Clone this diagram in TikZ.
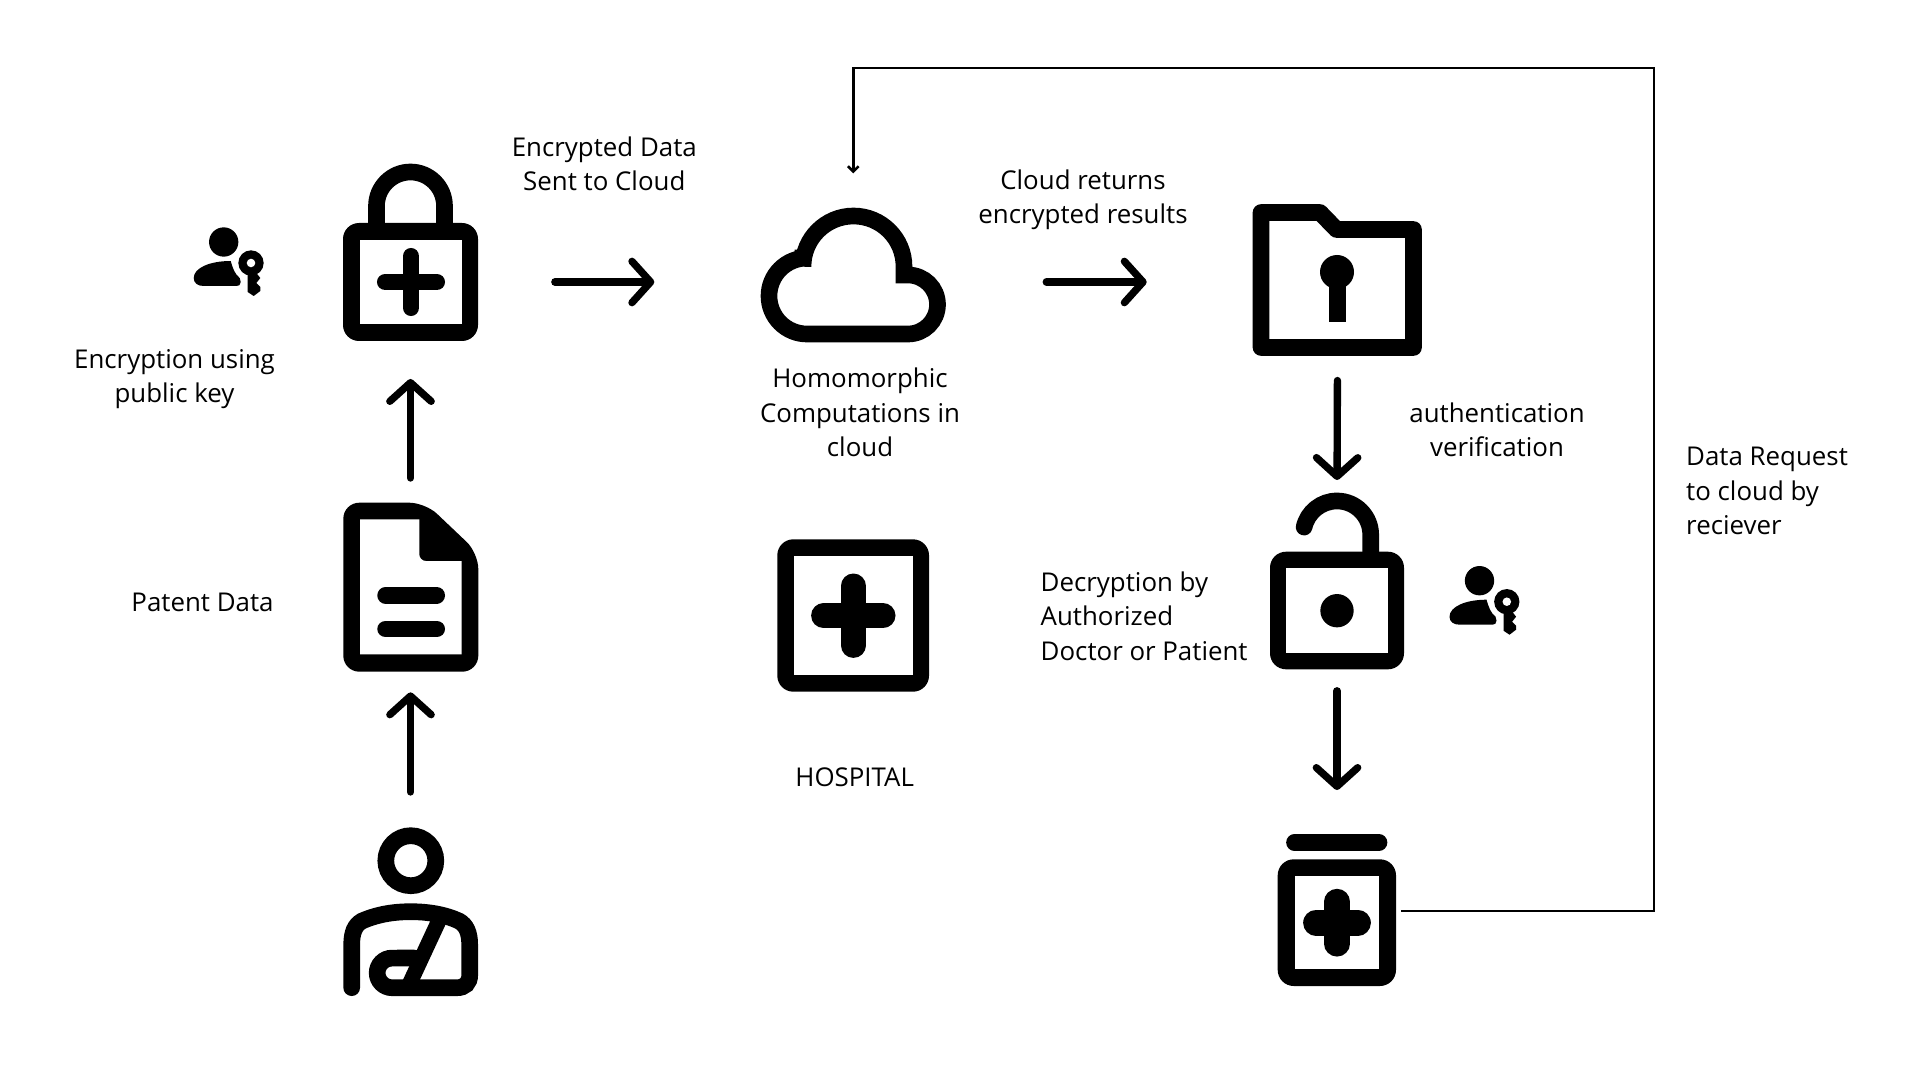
\documentclass[tikz,border=0pt]{standalone}
\usepackage{fontspec}
\setmainfont{Open Sans}
\usetikzlibrary{arrows.meta}
\tikzset{
  iconbox/.style={inner sep=0pt, outer sep=0pt},
  iconline/.style={line width=12.5pt, line cap=round},
  iconbody/.style={fill=black, rounded corners=12pt},
  iconhole/.style={fill=white},
  flowarrow/.style={line width=5.5pt, line cap=round, -{Straight Barb[length=14pt,width=31pt,round]}},
  reqarrow/.style={line width=1.9pt, -{Straight Barb[length=4pt,width=8pt]}},
  lbl/.style={font=\fontsize{19.4pt}{25.8pt}\selectfont, align=center},
  lblleft/.style={lbl, align=left},
  keyuser/.pic={
    \fill (0,0) circle (11pt);
    \fill (-20,44) .. controls (-26,44) and (-30,41) .. (-30,36) .. controls (-30,26) and (-14,19) .. (7,19)
      .. controls (9,26) and (11,32) .. (16,36) -- (17,40) .. controls (17,43) and (15,44) .. (13,44) -- cycle;
    \fill[white] (27.3,21) circle (12pt);
    \fill (27.3,21) circle (9.5pt);
    \fill[white] (27.3,21) circle (3.2pt);
    \fill (24,28) -- (24,50) -- (30,54) -- (36.6,49) -- (36.6,45) -- (32.6,41) -- (36.6,36) -- (32.6,31) -- (32.6,28) -- cycle;
  },
  medplus/.pic={
    \draw[iconline] (-25.7,0) -- (25.7,0) (0,-25.7) -- (0,25.7);
  },
  fatplus/.pic={
    \draw[iconline, line width=18.75pt] (-29.7,0) -- (29.7,0) (0,-29.7) -- (0,29.7);
  },
  jarplus/.pic={
    \draw[iconline, line width=19.3pt] (-21,0) -- (21,0) (0,-21) -- (0,21);
  }
}
\begin{document}
\begin{tikzpicture}[x=.75pt, y=-.75pt]
   \useasboundingbox (0,0) rectangle (1920,1080);

   \node[iconbox, minimum width=101pt, minimum height=88.5pt] (lock) at (410.5,282) {};
   \draw[iconline] (376.5,232) -- (376.5,206) arc[start angle=180, end angle=0, radius=25.5pt] -- (444.5,232);
   \fill[iconbody] (343,223) rectangle (478,341);
   \fill[iconhole] (360,240) rectangle (462,324);
   \pic at (411,282) {medplus};

   \node[iconbox, minimum width=101pt, minimum height=126.75pt] (doc) at (410.5,587.2) {};
   \fill[iconbody] (343.3,502.7) -- (425.3,502.7) -- (478.3,553) -- (478.3,671.7) -- (343.3,671.7) -- cycle;
   \fill[iconhole] (360,519.3) -- (419.3,519.3) [rounded corners=5pt] -- (419.3,561) [sharp corners] -- (461.7,561) -- (461.7,654.3) -- (360,654.3) -- cycle;
   \draw[iconline] (385.6,595.3) -- (436.7,595.3) (385.6,629) -- (436.7,629);

   \node[iconbox, minimum width=101pt, minimum height=126.5pt] (patient) at (410.5,911.65) {};
   \draw[iconline] (410.8,860.7) circle (18.75pt);
   \draw[iconline] (351.7,987.7) -- (351.7,945) .. controls (351.7,932) and (355,925) .. (362,921)
     .. controls (377,914.5) and (393,911.7) .. (410.8,911.7) .. controls (428,911.7) and (445,914.5) .. (459,921)
     .. controls (466,925) and (469.7,932) .. (469.7,945) -- (469.7,975)
     .. controls (469.7,983) and (465,987.7) .. (457,987.7) -- (392,987.7)
     arc[start angle=270, end angle=90, radius=11.1pt] -- (414,958);
   \draw[iconline, line width=11.5pt, line cap=butt] (440.6,917) -- (409,985);

   \pic at (223.7,242) {keyuser};
   \pic at (1479.5,580.7) {keyuser};

   \node[iconbox, minimum width=139pt, minimum height=101pt] (cloud) at (853.3,282) {};
   \draw[line width=12.5pt] (803,266.5) arc[start angle=180, end angle=0, radius=37.875pt] -- (904,275) -- (908,275)
     arc[start angle=90, end angle=-90, radius=22.125pt] -- (807,334)
     arc[start angle=270, end angle=90, radius=28.5pt] -- (803,258) -- cycle;

   \node[iconbox, minimum width=127pt, minimum height=111pt] (folder) at (1337.5,282) {};
   \draw[line width=12.5pt, line join=round] (1261,212.5) -- (1320,212.5) -- (1336.5,229.5) -- (1413.5,229.5) -- (1413.5,347.5) -- (1261,347.5) -- cycle;
   \fill (1337,272) circle (12.75pt);
   \fill (1328.5,272) rectangle (1345.5,322);

   \node[iconbox, minimum width=114pt, minimum height=114pt] (hospital) at (853.3,615.5) {};
   \fill[iconbody] (777.3,539.3) rectangle (929,691.7);
   \fill[iconhole] (794,556) rectangle (912.7,675);
   \pic at (853.3,615.7) {fatplus};

   \node[iconbox, minimum width=100.5pt, minimum height=132.5pt] (unlock) at (1337,581) {};
   \draw[iconline] (1370.7,556) -- (1370.7,534.7) arc[start angle=0, end angle=167, radius=25.3pt];
   \fill[iconbody] (1270,551.7) rectangle (1404,669.3);
   \fill[iconhole] (1286,568.3) rectangle (1387.7,653.3);
   \fill (1337,610.7) circle (12.5pt);

   \node[iconbox, minimum width=89pt, minimum height=114pt] (bottle) at (1337,911) {};
   \draw[iconline] (1294.5,842.5) -- (1379,842.5);
   \fill[iconbody] (1277.7,859.3) rectangle (1396,986);
   \fill[iconhole] (1294.7,876) rectangle (1379.3,969.3);
   \pic at (1337,922.7) {jarplus};

   \draw[flowarrow, shorten <=26.5pt, shorten >=15.5pt] (patient.north) -- (doc.south);
   \draw[flowarrow, shorten <=18.5pt, shorten >=28.5pt] (doc.north) -- (lock.south);
   \draw[flowarrow, shorten <=57.75pt, shorten >=79.75pt] (lock.east) -- (cloud.west);
   \draw[flowarrow, shorten <=75.25pt, shorten >=79.6pt] (cloud.east) -- (folder.west);
   \draw[flowarrow, shorten <=18.4pt, shorten >=9.5pt] (folder.south) -- (unlock.north);
   \draw[flowarrow, shorten <=16.1pt, shorten >=33.75pt] (unlock.south) -- (bottle.north);

   \coordinate (reqcorner) at (1654,68);
   \draw[reqarrow, shorten <=3.5pt, shorten >=31pt] (bottle.east) -| (reqcorner) -| (cloud.north);

   \node[lbl] (enclabel) at (174.5,379) {Encryption using\\public key};
   \node[lbl] (sentlabel) at (604.3,163.8) {Encrypted Data\\Sent to Cloud};
   \node[lbl] (returnlabel) at (1083,199.5) {Cloud returns\\encrypted results};
   \node[lbl] (homolabel) at (860,412.3) {Homomorphic\\Computations in\\cloud};
   \node[lbl] (authlabel) at (1497,430) {authentication\\verification};
   \node[lblleft, anchor=west] (reqlabel) at (1681.5,491) {Data Request\\to cloud by\\reciever};
   \node[lbl] (doclabel) at (202.5,602) {Patent Data};
   \node[lbl] (hosplabel) at (854.7,777.3) {HOSPITAL};
   \node[lblleft, anchor=west] (declabel) at (1036,616) {Decryption by\\Authorized\\Doctor or Patient};
\end{tikzpicture}
\end{document}
